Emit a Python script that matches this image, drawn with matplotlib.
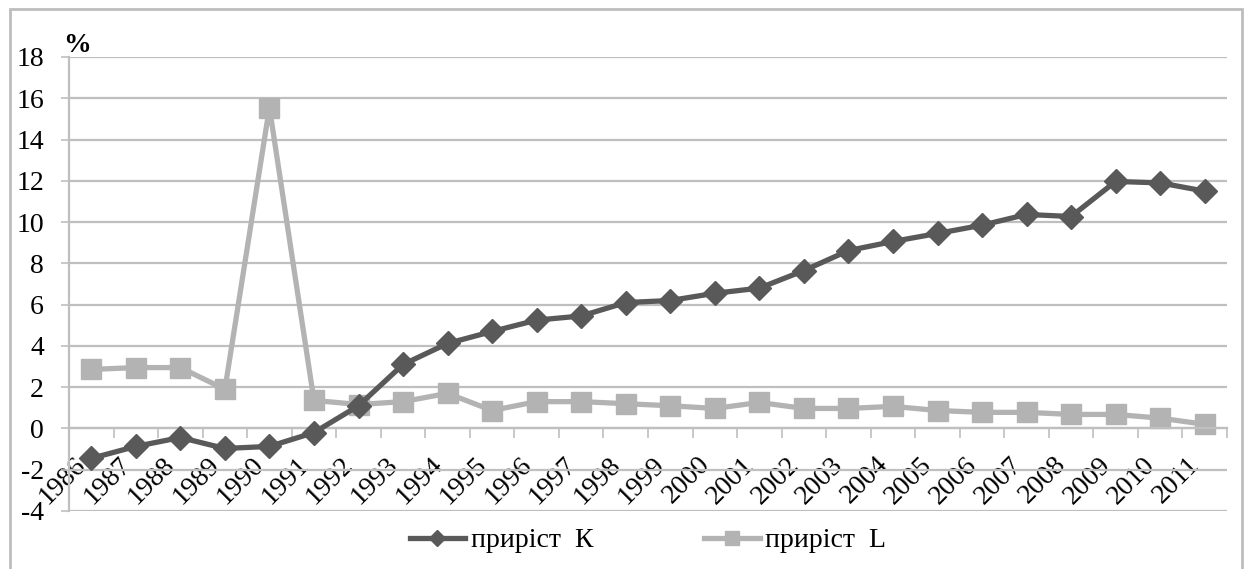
import matplotlib.pyplot as plt
from matplotlib.patches import Rectangle

# Data
years = [str(y) for y in range(1986, 2012)]
growth_k = [-1.45, -0.87, -0.44, -0.97, -0.87, -0.2, 1.1, 3.1, 4.12, 4.7,
            5.25, 5.45, 6.1, 6.2, 6.55, 6.8, 7.65, 8.62, 9.06, 9.45,
            9.85, 10.37, 10.27, 11.97, 11.9, 11.5]
growth_l = [2.86, 2.95, 2.95, 1.9, 15.55, 1.36, 1.16, 1.3, 1.7, 0.87,
            1.3, 1.3, 1.2, 1.1, 0.97, 1.26, 0.97, 0.97, 1.07, 0.87,
            0.78, 0.78, 0.68, 0.68, 0.5, 0.2]
label_k = 'приріст  К'
label_l = 'приріст  L'
y_ticks = list(range(-4, 19, 2))

plt.rcParams['font.family'] = ['Liberation Serif', 'DejaVu Serif']

fig = plt.figure(figsize=(12.46, 5.69), dpi=100)
ax = fig.add_axes([69 / 1246, 1 - 511 / 569, (1227 - 69) / 1246, (511 - 57) / 569])

# grey frame around the whole chart
fig.patches.append(Rectangle((10 / 1246, -0.05), 1232 / 1246, 1 - 9 / 569 + 0.05,
                             transform=fig.transFigure, fill=False,
                             edgecolor='#bdbdbd', linewidth=2))

x = list(range(len(years)))
ax.plot(x, growth_k, color='#595959', linewidth=3.8, marker='D', markersize=12,
        label=label_k, zorder=3)
ax.plot(x, growth_l, color='#b3b3b3', linewidth=3.8, marker='s', markersize=14,
        label=label_l, zorder=2)

ax.set_xlim(-0.5, len(years) - 0.5)
ax.set_ylim(-4, 18)
ax.set_yticks(y_ticks)
ax.set_yticklabels([str(v) for v in y_ticks], fontsize=20)
ax.yaxis.grid(True, color='#bfbfbf', linewidth=1.6)
ax.tick_params(axis='y', length=6, width=1.2, color='#bfbfbf', pad=12)

# category axis crossing at zero
ax.spines['bottom'].set_position(('data', 0))
ax.spines['bottom'].set_color('#bfbfbf')
ax.spines['bottom'].set_linewidth(1.6)
ax.spines['left'].set_color('#bfbfbf')
ax.spines['left'].set_linewidth(1.6)
ax.spines['top'].set_visible(False)
ax.spines['right'].set_visible(False)

ax.set_xticks(x)
ax.set_xticklabels(years, rotation=45, ha='right', fontsize=20)
ax.tick_params(axis='x', which='major', length=0, pad=17)
ax.set_xticks([i + 0.5 for i in range(-1, len(years))], minor=True)
ax.tick_params(axis='x', which='minor', length=7, width=1.2, color='#bfbfbf')

ax.text(-0.005, 0.997, '%', transform=ax.transAxes, fontsize=20, fontweight='bold',
        ha='left', va='bottom')

ax.legend(loc='center', bbox_to_anchor=(0.5, -0.065), ncol=2, frameon=False,
          fontsize=20, handlelength=2.0, columnspacing=4.0, handletextpad=0.2,
          markerscale=0.7)

fig.savefig('out.png', dpi=100)
